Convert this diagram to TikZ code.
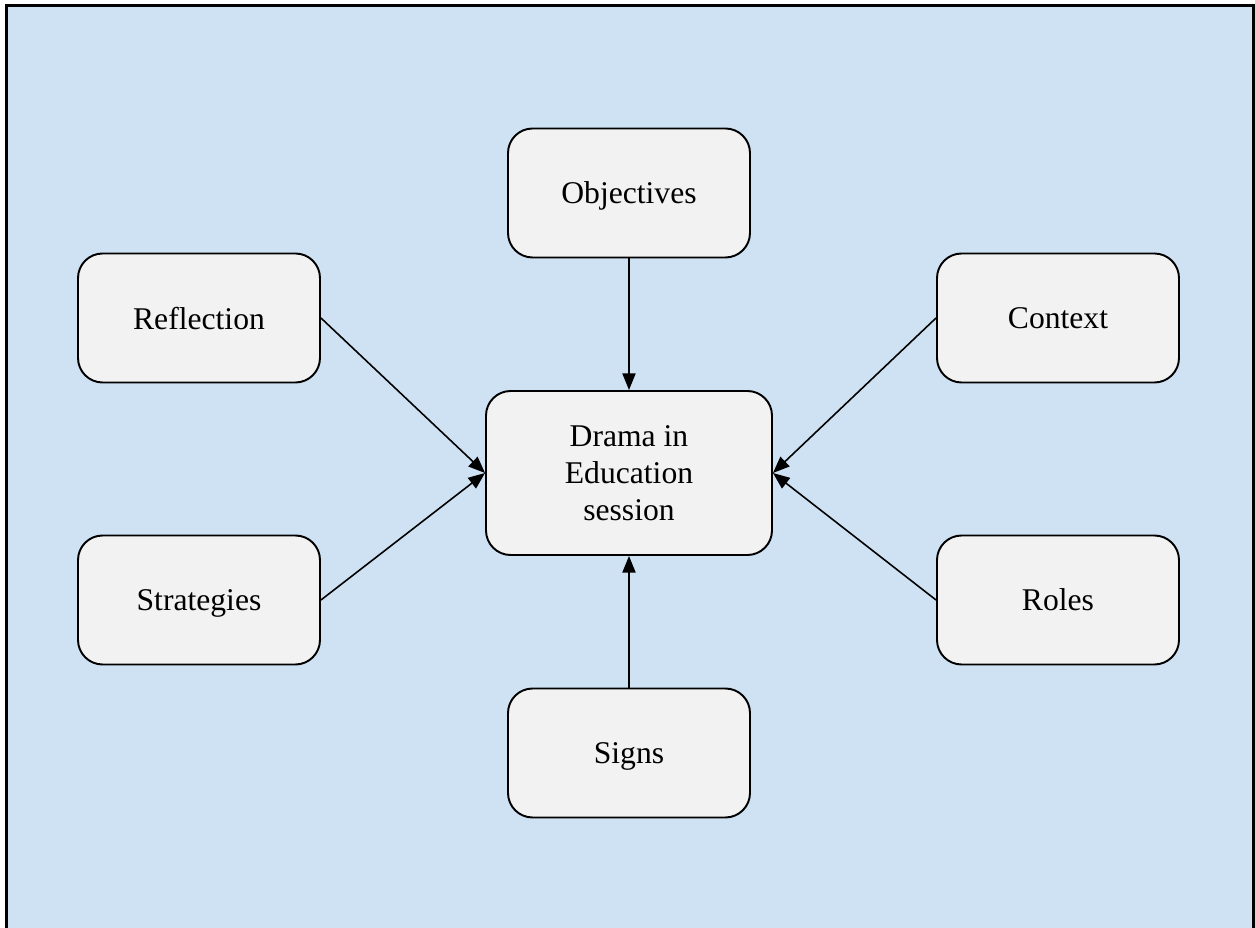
\documentclass[tikz,border=0pt]{standalone}
\usepackage{fontspec}
\setmainfont{Liberation Serif}
\usetikzlibrary{arrows.meta}

\definecolor{bgblue}{HTML}{CFE2F3}
\definecolor{boxgrey}{HTML}{F2F2F2}

\tikzset{
	topic/.style={draw, line width=1.1pt, rounded corners=14pt, fill=boxgrey,
		minimum width=242*0.02cm, minimum height=129*0.02cm, align=center,
		text depth=0pt, font=\fontsize{18}{21}\selectfont},
	feed/.style={-{Triangle[length=9.5pt, width=7.5pt]}, line width=0.9pt}
}

\begin{document}
\begin{tikzpicture}[x=0.02cm, y=-0.02cm]
			\clip (0,0) rectangle (1255,928);
			\draw[line width=1.7pt, fill=bgblue] (6.5,5.5) rectangle (1253,960);
			
			\node[topic] (obj) at (629, 193) {Objectives};
			\node[topic] (refl) at (199, 318) {Reflection};
			\node[topic] (ctx) at (1058, 318) {Context};
			\node[topic, minimum width=286*0.02cm, minimum height=164*0.02cm] (drama) at (629, 473) {Drama in\\Education\\session};
			\node[topic] (strat) at (199, 600) {Strategies};
			\node[topic] (roles) at (1058, 600) {Roles};
			\node[topic] (signs) at (629, 753) {Signs};
			
			\path (obj) edge[feed] (drama);
			\path (signs) edge[feed] (drama);
			\path (refl.east) edge[feed] (drama.west);
			\path (strat.east) edge[feed] (drama.west);
			\path (ctx.west) edge[feed] (drama.east);
			\path (roles.west) edge[feed] (drama.east);
			
		\end{tikzpicture}
\end{document}
